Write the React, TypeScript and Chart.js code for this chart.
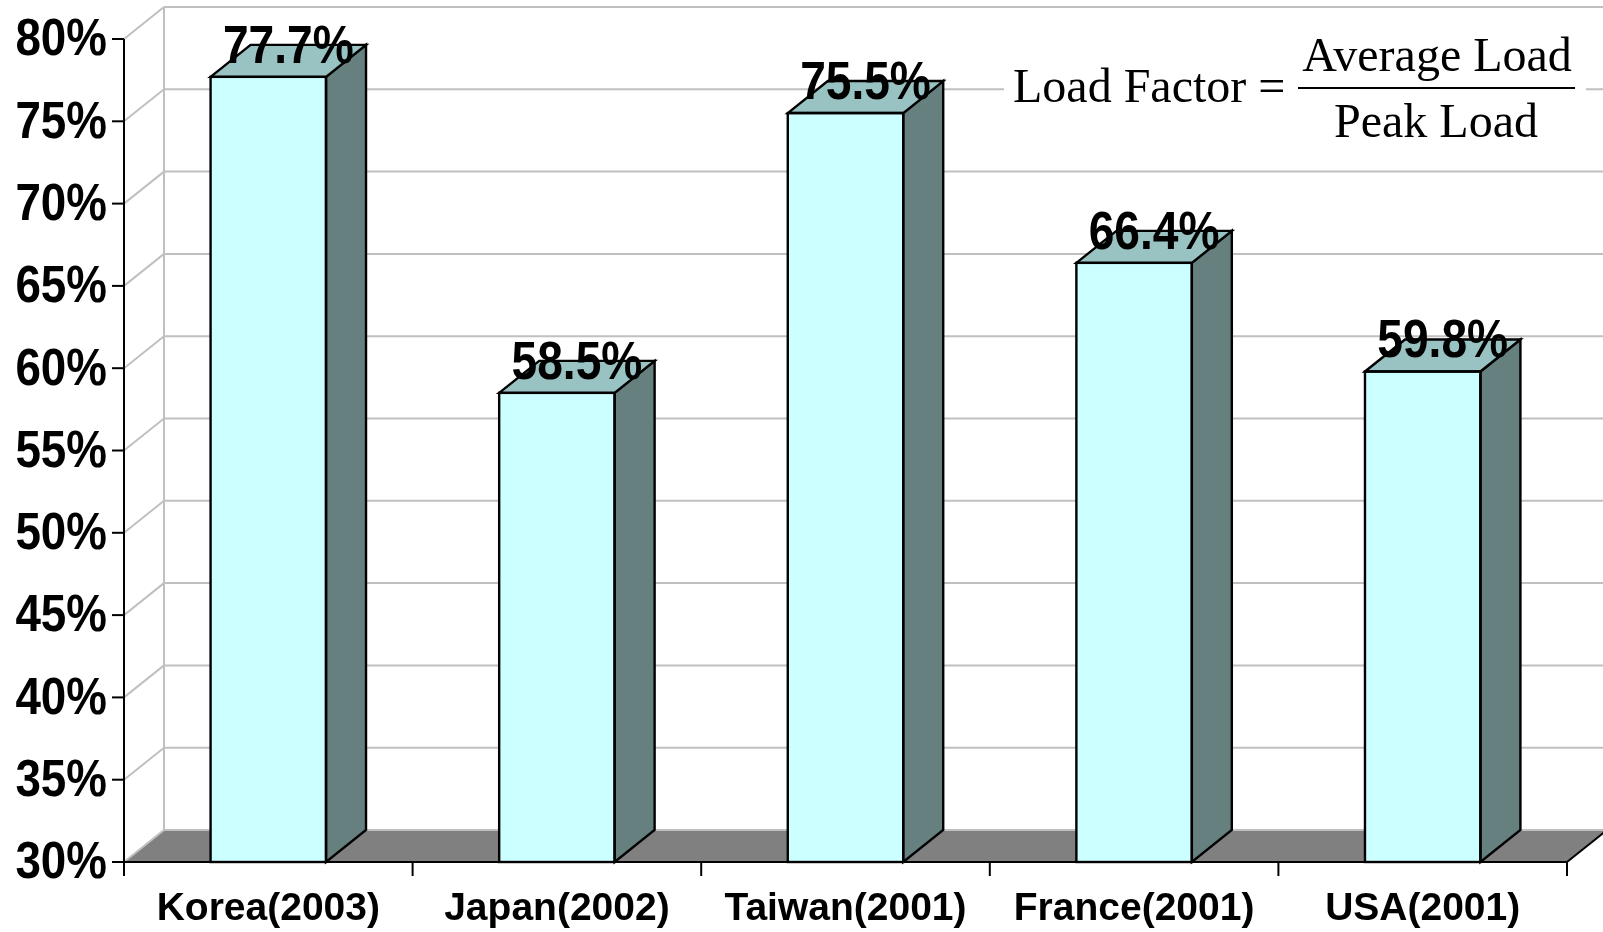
import React, { useEffect, useRef } from "react";
import { Chart, registerables } from "chart.js";

Chart.register(...registerables);

// Countries and the year each load factor was recorded
const categories = ["Korea(2003)", "Japan(2002)", "Taiwan(2001)", "France(2001)", "USA(2001)"];
// Load factor, percent
const loadFactor = [77.7, 58.5, 75.5, 66.4, 59.8];
const valueLabels = ["77.7%", "58.5%", "75.5%", "66.4%", "59.8%"];
// Value axis
const yTicks = [30, 35, 40, 45, 50, 55, 60, 65, 70, 75, 80];
const yTickLabels = ["30%", "35%", "40%", "45%", "50%", "55%", "60%", "65%", "70%", "75%", "80%"];

const W = 1603;
const H = 932;
// depth offset of the pseudo-3D box
const DX = 40;
const DY = -32;

const FRONT = "#CCFFFF";
const TOP = "#99C2C2";
const SIDE = "#668080";
const FLOOR = "#808080";
const GRID = "#C0C0C0";

const SANS = '"Liberation Sans", Arial, sans-serif';
const SERIF = '"Liberation Serif", "Times New Roman", serif';

function line(ctx: CanvasRenderingContext2D, x1: number, y1: number, x2: number, y2: number) {
  ctx.beginPath();
  ctx.moveTo(x1, y1);
  ctx.lineTo(x2, y2);
  ctx.stroke();
}

function poly(ctx: CanvasRenderingContext2D, pts: number[][], fill: string) {
  ctx.beginPath();
  ctx.moveTo(pts[0][0], pts[0][1]);
  for (let i = 1; i < pts.length; i++) ctx.lineTo(pts[i][0], pts[i][1]);
  ctx.closePath();
  ctx.fillStyle = fill;
  ctx.fill();
  ctx.stroke();
}

function squishedText(ctx: CanvasRenderingContext2D, text: string, x: number, y: number, sx: number) {
  ctx.save();
  ctx.translate(x, y);
  ctx.scale(sx, 1);
  ctx.fillText(text, 0, 0);
  ctx.restore();
}

const box3d = {
  id: "box3d",
  beforeDatasetsDraw(chart: any) {
    const { ctx, chartArea } = chart;
    const { left, right, top, bottom } = chartArea;
    const ys = chart.scales.y;
    const xs = chart.scales.x;
    ctx.save();

    // floor
    ctx.beginPath();
    ctx.moveTo(left, bottom);
    ctx.lineTo(left + DX, bottom + DY);
    ctx.lineTo(right + DX, bottom + DY);
    ctx.lineTo(right, bottom);
    ctx.closePath();
    ctx.fillStyle = FLOOR;
    ctx.fill();

    // back wall grid lines and side-wall diagonals
    ctx.strokeStyle = GRID;
    ctx.lineWidth = 2;
    yTicks.forEach((v) => {
      const y = ys.getPixelForValue(v);
      line(ctx, left, y, left + DX, y + DY);
      line(ctx, left + DX, y + DY, right + DX, y + DY);
    });
    line(ctx, left + DX, top + DY, left + DX, bottom + DY);

    // floor front and right edges
    ctx.strokeStyle = "#000";
    ctx.lineWidth = 2;
    line(ctx, right, bottom, right + DX, bottom + DY);
    line(ctx, left, bottom, right, bottom);

    // value axis with outside tick marks
    line(ctx, left, top, left, bottom + 14);
    yTicks.forEach((v) => {
      const y = ys.getPixelForValue(v);
      line(ctx, left - 12, y, left, y);
    });

    // category boundary ticks
    const step = xs.getPixelForValue(1) - xs.getPixelForValue(0);
    const first = xs.getPixelForValue(0) - step / 2;
    for (let i = 0; i <= categories.length; i++) {
      const x = first + i * step;
      line(ctx, x, bottom, x, bottom + 14);
    }
    ctx.restore();
  },
  afterDatasetsDraw(chart: any) {
    const { ctx, chartArea } = chart;
    const meta = chart.getDatasetMeta(0);
    ctx.save();
    ctx.strokeStyle = "#000";
    ctx.lineWidth = 2.4;
    ctx.lineJoin = "miter";
    meta.data.forEach((bar: any) => {
      const p = bar.getProps(["x", "y", "base", "width"], true);
      const { x, y, width } = p;
      const base = Math.min(p.base, chartArea.bottom);
      const l = x - width / 2;
      const r = x + width / 2;
      poly(ctx, [[r, y], [r + DX, y + DY], [r + DX, base + DY], [r, base]], SIDE);
      poly(ctx, [[l, y], [l + DX, y + DY], [r + DX, y + DY], [r, y]], TOP);
      ctx.strokeRect(l, y, width, base - y);
    });

    // value labels above each bar
    ctx.fillStyle = "#000";
    ctx.font = `bold 53px ${SANS}`;
    ctx.textAlign = "center";
    ctx.textBaseline = "alphabetic";
    meta.data.forEach((bar: any, i: number) => {
      const { x, y } = bar.getProps(["x", "y"], true);
      squishedText(ctx, valueLabels[i], x + DX / 2, y + DY / 2 + 2, 0.87);
    });
    ctx.restore();
  },
  afterDraw(chart: any) {
    const { ctx, chartArea } = chart;
    const ys = chart.scales.y;
    const xs = chart.scales.x;
    ctx.save();
    ctx.fillStyle = "#000";

    // value axis labels
    ctx.font = `bold 52px ${SANS}`;
    ctx.textAlign = "right";
    ctx.textBaseline = "middle";
    yTicks.forEach((v, i) => {
      squishedText(ctx, yTickLabels[i], chartArea.left - 17, ys.getPixelForValue(v) + 2, 0.88);
    });

    // category labels
    ctx.font = `bold 39px ${SANS}`;
    ctx.textAlign = "center";
    ctx.textBaseline = "alphabetic";
    categories.forEach((c, i) => {
      ctx.fillText(c, xs.getPixelForValue(i), chartArea.bottom + 58);
    });

    // load factor formula
    ctx.fillStyle = "#fff";
    ctx.fillRect(1004, 20, 582, 135);
    ctx.fillStyle = "#000";
    ctx.font = `48px ${SERIF}`;
    ctx.textAlign = "left";
    ctx.fillText("Load Factor =", 1013, 102);
    ctx.textAlign = "center";
    ctx.fillText("Average Load", 1437, 71);
    ctx.fillText("Peak Load", 1436, 137);
    ctx.strokeStyle = "#000";
    ctx.lineWidth = 2;
    line(ctx, 1298, 88, 1575, 88);
    ctx.restore();
  },
};

export default function App() {
  const ref = useRef<HTMLCanvasElement | null>(null);

  useEffect(() => {
    if (!ref.current) return;
    const chart = new Chart(ref.current, {
      type: "bar",
      data: {
        labels: categories,
        datasets: [
          {
            data: loadFactor,
            base: 30,
            backgroundColor: FRONT,
            borderColor: "#000",
            borderWidth: 0,
            borderSkipped: false,
            barPercentage: 0.4,
            categoryPercentage: 1,
          },
        ],
      },
      options: {
        responsive: false,
        animation: false,
        layout: { padding: { left: 124, right: 36, top: 39, bottom: 70 } },
        plugins: { legend: { display: false }, tooltip: { enabled: false } },
        scales: {
          x: { display: false, offset: true },
          y: { display: false, min: 30, max: 80, ticks: { stepSize: 5 } },
        },
      },
      plugins: [box3d],
    });
    return () => chart.destroy();
  }, []);

  return (
    <div style={{ position: "fixed", left: 0, top: 0, width: W, height: H, background: "#fff" }}>
      <canvas ref={ref} width={W} height={H} style={{ width: W, height: H }} />
    </div>
  );
}
